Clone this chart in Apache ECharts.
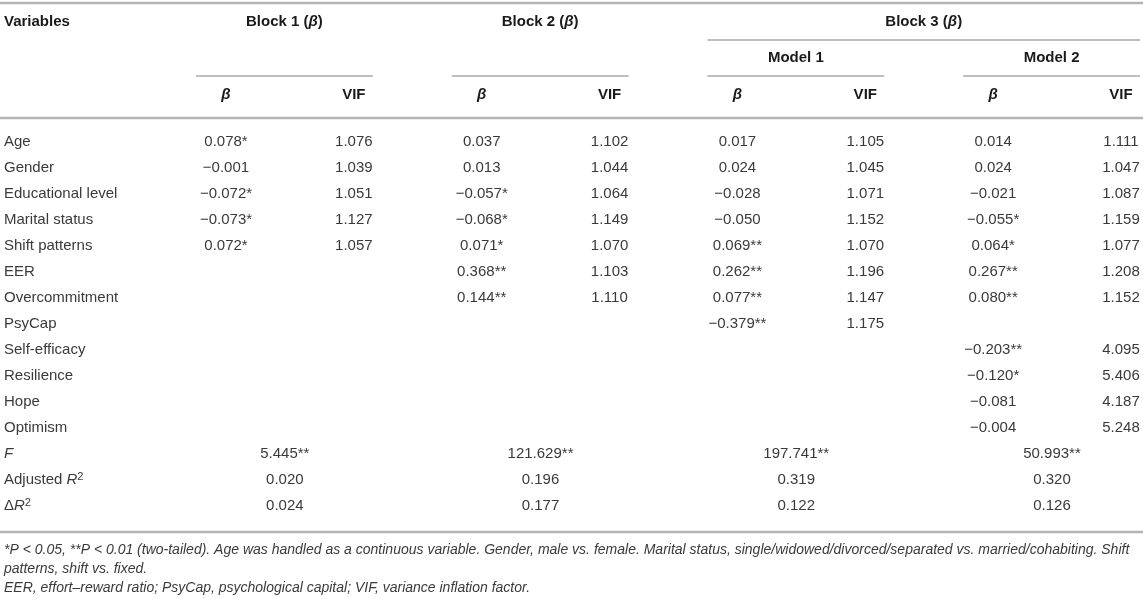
<!DOCTYPE html>
<html>
<head>
<meta charset="utf-8">
<script src="https://cdn.jsdelivr.net/npm/echarts@6/dist/echarts.min.js"></script>
<style>
html, body { margin: 0; padding: 0; background: #fff; }
#chart-container { width: 1143px; height: 599px; }
</style>
</head>
<body>
<div id="chart-container"></div>
<script>
'use strict';

const variables = ['Age', 'Gender', 'Educational level', 'Marital status', 'Shift patterns',
    'EER', 'Overcommitment', 'PsyCap', 'Self-efficacy', 'Resilience', 'Hope', 'Optimism'];
const summaryLabels = ['F', 'Adjusted R2', 'ΔR2'];

const block1Beta = [0.078, -0.001, -0.072, -0.073, 0.072];
const block1Sig = [1, 0, 1, 1, 1];
const block1Vif = [1.076, 1.039, 1.051, 1.127, 1.057];

const block2Beta = [0.037, 0.013, -0.057, -0.068, 0.071, 0.368, 0.144];
const block2Sig = [0, 0, 1, 1, 1, 2, 2];
const block2Vif = [1.102, 1.044, 1.064, 1.149, 1.070, 1.103, 1.110];

const model1Beta = [0.017, 0.024, -0.028, -0.050, 0.069, 0.262, 0.077, -0.379];
const model1Sig = [0, 0, 0, 0, 2, 2, 2, 2];
const model1Vif = [1.105, 1.045, 1.071, 1.152, 1.070, 1.196, 1.147, 1.175];

const model2Beta = [0.014, 0.024, -0.021, -0.055, 0.064, 0.267, 0.080, null, -0.203, -0.120, -0.081, -0.004];
const model2Sig = [0, 0, 0, 1, 1, 2, 2, 0, 2, 1, 0, 0];
const model2Vif = [1.111, 1.047, 1.087, 1.159, 1.077, 1.208, 1.152, null, 4.095, 5.406, 4.187, 5.248];

const fValues = [5.445, 121.629, 197.741, 50.993];
const fSig = [2, 2, 2, 2];
const adjR2 = [0.020, 0.196, 0.319, 0.320];
const deltaR2 = [0.024, 0.177, 0.122, 0.126];

const blockNames = ['Block 1', 'Block 2', 'Block 3'];
const modelNames = ['Model 1', 'Model 2'];
const subHeaders = ['β', 'VIF'];
const footnotes = [
    '*P < 0.05, **P < 0.01 (two-tailed). Age was handled as a continuous variable. Gender, male vs. female. Marital status, single/widowed/divorced/separated vs. married/cohabiting. Shift',
    'patterns, shift vs. fixed.',
    'EER, effort–reward ratio; PsyCap, psychological capital; VIF, variance inflation factor.'
];

// ---- layout ----
const FONT = '"Liberation Sans", Arial, Helvetica, sans-serif';
const TEXT = '#3a3a3a';
const HEAD = '#1a1a1a';
const RULE = '#b5b5b5';
const ROW_H = 26;
const FIRST_ROW_Y = 142;

const rowLabels = variables.concat(summaryLabels);

function fmt(v, sig) {
    if (v === null || v === undefined) {
        return '';
    }
    return (v < 0 ? '−' : '') + Math.abs(v).toFixed(3) + '*'.repeat(sig || 0);
}

// one entry per model column group: beta at col, VIF at col + 1
const groups = [
    { beta: block1Beta, sig: block1Sig, vif: block1Vif },
    { beta: block2Beta, sig: block2Sig, vif: block2Vif },
    { beta: model1Beta, sig: model1Sig, vif: model1Vif },
    { beta: model2Beta, sig: model2Sig, vif: model2Vif }
];

const cells = [];
groups.forEach((g, gi) => {
    const col = gi * 2;
    g.beta.forEach((v, r) => {
        if (v !== null) cells.push({ x: col, row: r, text: fmt(v, g.sig[r]) });
    });
    g.vif.forEach((v, r) => {
        if (v !== null) cells.push({ x: col + 1, row: r, text: fmt(v) });
    });
    const mid = col + 0.46;
    cells.push({ x: mid, row: variables.length, text: fmt(fValues[gi], fSig[gi]) });
    cells.push({ x: mid, row: variables.length + 1, text: fmt(adjR2[gi]) });
    cells.push({ x: mid, row: variables.length + 2, text: fmt(deltaR2[gi]) });
});

const myChart = echarts.init(document.getElementById('chart-container'), null, { renderer: 'canvas' });

const option = {
    backgroundColor: '#fff',
    animation: false,
    grid: {
        left: 0,
        right: 0,
        top: FIRST_ROW_Y - ROW_H / 2,
        height: ROW_H * rowLabels.length
    },
    xAxis: {
        type: 'value',
        min: -1.7676,
        max: 7.172,
        show: false
    },
    yAxis: {
        type: 'category',
        inverse: true,
        data: rowLabels,
        axisLine: { show: false },
        axisTick: { show: false },
        splitLine: { show: false },
        axisLabel: {
            interval: 0,
            align: 'left',
            margin: -4,
            color: TEXT,
            fontSize: 15,
            fontFamily: FONT,
            lineHeight: 18,
            formatter: (value) => {
                if (value === 'F') return '{i|F}';
                if (value === 'Adjusted R2') return 'Adjusted {i|R}{s|2}';
                if (value === 'ΔR2') return 'Δ{i|R}{s|2}';
                return value;
            },
            rich: {
                i: { fontStyle: 'italic', fontSize: 15, fontFamily: FONT, color: TEXT, lineHeight: 18 },
                s: { fontSize: 11, fontFamily: FONT, color: TEXT, verticalAlign: 'top', lineHeight: 11 }
            }
        }
    },
    series: [{
        type: 'custom',
        silent: true,
        clip: false,
        data: cells.map(c => [c.x, c.row]),
        renderItem: (params, api) => {
            const p = api.coord([api.value(0), api.value(1)]);
            return {
                type: 'text',
                x: p[0],
                y: p[1],
                style: {
                    text: cells[params.dataIndex].text,
                    align: 'center',
                    verticalAlign: 'middle',
                    font: '15px ' + FONT,
                    fill: TEXT
                }
            };
        }
    }]
};
myChart.setOption(option);

// ---- header and footer, placed from the axis positions ----
const colX = i => myChart.convertToPixel({ xAxisIndex: 0 }, i);
const rowY = i => myChart.convertToPixel({ yAxisIndex: 0 }, i);

function hline(x1, x2, y, w, color) {
    return { type: 'line', silent: true, shape: { x1, y1: y, x2, y2: y }, style: { stroke: color, lineWidth: w } };
}
function label(text, x, y, align, rich) {
    return {
        type: 'text', silent: true, x, y,
        style: {
            text, align, verticalAlign: 'middle',
            font: 'bold 15px ' + FONT, fill: HEAD,
            rich: rich || {}
        }
    };
}
const betaRich = { bi: { fontStyle: 'italic', fontWeight: 'bold', fontSize: 15, fontFamily: FONT, fill: HEAD, color: HEAD } };

const graphics = [];
graphics.push(hline(0, 1143, 3, 2.5, RULE));
graphics.push(label('Variables', 4, 22, 'left'));

const spans = [];
for (let g = 0; g < 4; g++) {
    const bx = colX(g * 2);
    const vx = colX(g * 2 + 1);
    spans.push([bx - 30, vx + 19]);
    graphics.push(label('{bi|' + subHeaders[0] + '}', bx, 95, 'center', betaRich));
    graphics.push(label(subHeaders[1], vx, 95, 'center'));
    graphics.push(hline(bx - 30, vx + 19, 76, 1.3, '#a8a8a8'));
}
for (let b = 0; b < 2; b++) {
    const c = (spans[b][0] + spans[b][1]) / 2;
    graphics.push(label(blockNames[b] + ' ({bi|β})', c, 22, 'center', betaRich));
}
const b3L = spans[2][0];
const b3R = spans[3][1];
graphics.push(label(blockNames[2] + ' ({bi|β})', (b3L + b3R) / 2, 22, 'center', betaRich));
graphics.push(hline(b3L, b3R, 40, 1.3, '#a8a8a8'));
for (let m = 0; m < 2; m++) {
    const s = spans[2 + m];
    graphics.push(label(modelNames[m], (s[0] + s[1]) / 2, 58, 'center'));
}
graphics.push(hline(0, 1143, 118, 2.5, RULE));

const bottomY = rowY(rowLabels.length - 1) + 26;
graphics.push(hline(0, 1143, bottomY, 2.5, RULE));
footnotes.forEach((t, i) => {
    graphics.push({
        type: 'text', silent: true, x: 4, y: bottomY + 18 + i * 19,
        style: { text: t, align: 'left', verticalAlign: 'middle', font: 'italic 14px ' + FONT, fill: TEXT }
    });
});

myChart.setOption({ graphic: graphics });

window.addEventListener('resize', myChart.resize);
</script>
</body>
</html>
